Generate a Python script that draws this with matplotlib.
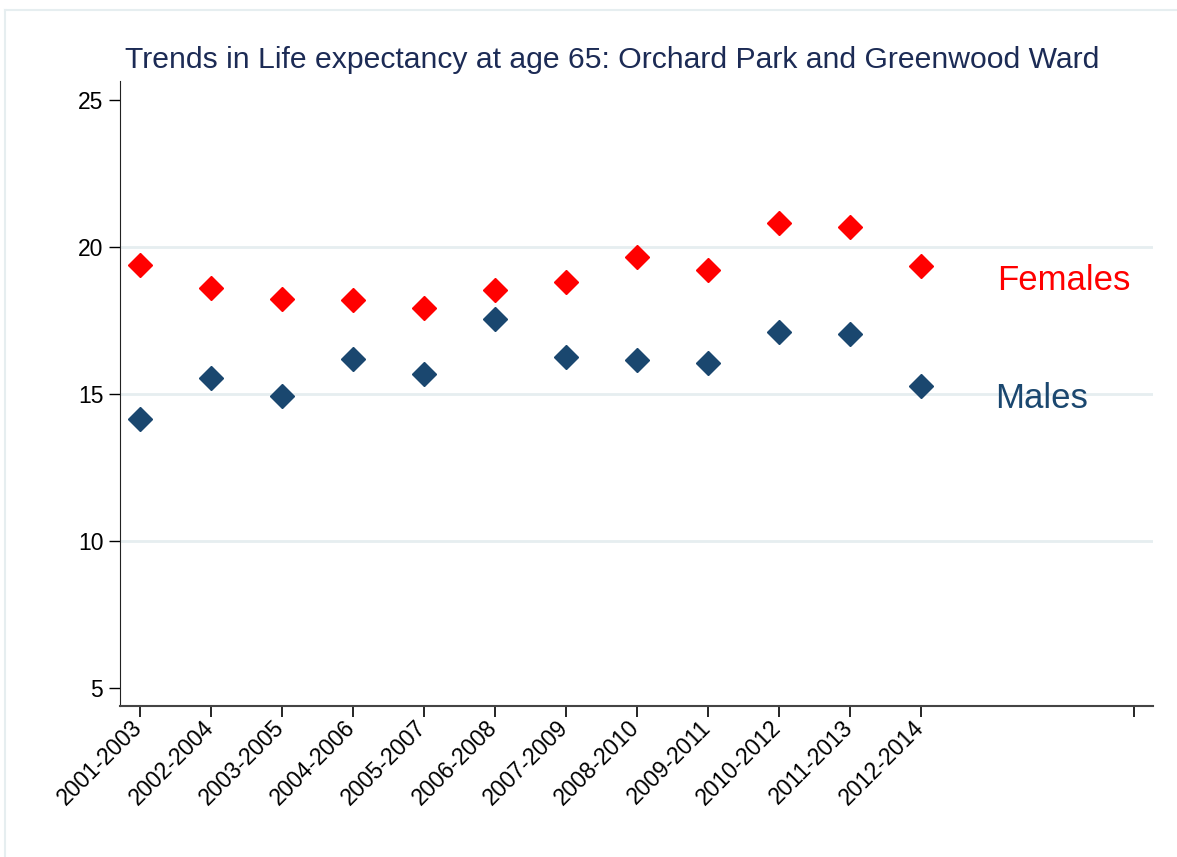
import matplotlib.pyplot as plt
from matplotlib.lines import Line2D
from matplotlib.transforms import ScaledTranslation

periods = ['2001-2003', '2002-2004', '2003-2005', '2004-2006', '2005-2007', '2006-2008',
           '2007-2009', '2008-2010', '2009-2011', '2010-2012', '2011-2013', '2012-2014']
females = [19.39, 18.60, 18.23, 18.20, 17.92, 18.54, 18.81, 19.66, 19.22, 20.82, 20.68, 19.35]
males = [14.15, 15.54, 14.93, 16.19, 15.68, 17.55, 16.26, 16.16, 16.05, 17.11, 17.04, 15.27]
y_ticks = [5, 10, 15, 20, 25]
grid_levels = [10, 15, 20]

red = '#ff0000'
navy = '#1a476f'
title_col = '#1c2b55'
grid_col = '#e6eef0'

plt.rcParams['font.family'] = ['Liberation Sans', 'DejaVu Sans']

fig = plt.figure(figsize=(11.77, 8.57), dpi=100)
ax = fig.add_axes([120 / 1177, 1 - 706 / 857, (1153 - 120) / 1177, (706 - 81) / 857])

# light outer frame of the graph region (top and left edges)
fig.add_artist(Line2D([5 / 1177, 1], [1 - 10 / 857, 1 - 10 / 857], color=grid_col, lw=1.5))
fig.add_artist(Line2D([5 / 1177, 5 / 1177], [0, 1 - 10 / 857], color=grid_col, lw=1.5))

for g in grid_levels:
    ax.axhline(g, color=grid_col, lw=2, zorder=0)

x = list(range(len(periods)))
ax.plot(x, females, linestyle='', marker='D', markersize=12, color=red, zorder=3)
ax.plot(x, males, linestyle='', marker='D', markersize=12, color=navy, zorder=3)

ax.text(12.07, 18.54, 'Females', color=red, fontsize=25, ha='left', va='baseline')
ax.text(12.04, 14.52, 'Males', color=navy, fontsize=25, ha='left', va='baseline')

ax.set_xlim(-0.28, 14.27)
ax.set_ylim(4.39, 25.65)
ax.set_yticks(y_ticks)
ax.set_yticklabels([str(t) for t in y_ticks], fontsize=16.5)
ax.set_xticks(x + [14])
ax.set_xticklabels(periods + [''], rotation=45, ha='right', va='top',
                   rotation_mode='anchor', fontsize=16.5)
ax.tick_params(axis='y', length=8, width=1, pad=4)
ax.tick_params(axis='x', length=8, width=1.2, pad=2)

# nudge rotated labels so their right end sits under the tick, as in Stata
# (after tick_params, which resets the label transforms)
shift = ScaledTranslation(-0.09, 0.04, fig.dpi_scale_trans)
for lbl in ax.get_xticklabels():
    lbl.set_transform(lbl.get_transform() + shift)

for s in ['top', 'right']:
    ax.spines[s].set_visible(False)
ax.spines['left'].set_color('#222222')
ax.spines['bottom'].set_color('#444444')
ax.spines['bottom'].set_linewidth(1.5)

fig.text(125 / 1177, 1 - 60 / 857, 'Trends in Life expectancy at age 65: Orchard Park and Greenwood Ward',
         color=title_col, fontsize=21.7, ha='left', va='center')

fig.savefig('out.png', dpi=100)
